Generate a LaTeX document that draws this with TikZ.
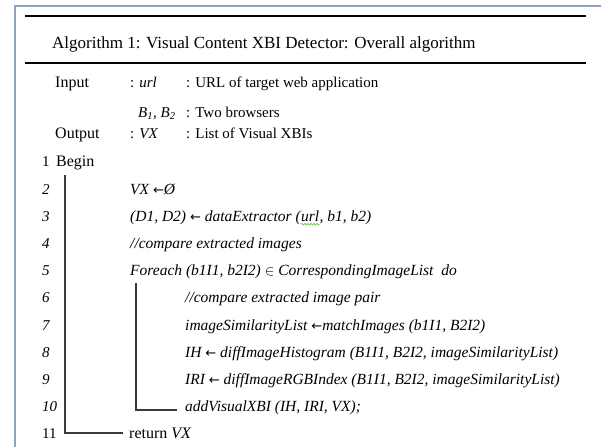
\documentclass[tikz,border=0pt]{standalone}
\usepackage{fontspec}
\setmainfont{Liberation Serif}
\newfontfamily\arrowfont{DejaVu Sans}
\newcommand{\larr}{{\arrowfont\upshape\fontsize{13}{16}\selectfont ←}}
\usetikzlibrary{calc,decorations.pathmorphing}
\definecolor{framecol}{HTML}{8FA3BF}
\definecolor{treecol}{HTML}{3A3A3A}
\definecolor{spellcol}{HTML}{6DBF4A}
\begin{document}
\begin{tikzpicture}[x=1pt,y=-1pt,
  txt/.style={inner sep=0pt, anchor=base west, font=\fontsize{16}{19}\selectfont},
  titletxt/.style={inner sep=0pt, anchor=base west, font=\fontsize{17}{20}\selectfont},
  small/.style={inner sep=0pt, anchor=base west, font=\fontsize{15}{18}\selectfont},
  code/.style={inner sep=0pt, anchor=base west, font=\fontsize{15.5}{18}\selectfont\itshape},
  lno/.style={inner sep=0pt, anchor=base west, font=\fontsize{15}{18}\selectfont\itshape},
  lnoup/.style={inner sep=0pt, anchor=base west, font=\fontsize{15}{18}\selectfont},
  frameline/.style={draw=framecol, line width=2pt},
  rule/.style={line width=1.4pt},
  tree/.style={draw=treecol, line width=1.2pt}]
\useasboundingbox (0,0) rectangle (601,447);
\fill[white] (0,0) rectangle (601,447);

% outer frame (top and left edges)
\draw[frameline] (15,447) -- (15,6) -- (601,6);

% caption rules and title
\coordinate (r1l) at (25,16);  \coordinate (r1r) at (586,16);
\coordinate (r2l) at (25,63);  \coordinate (r2r) at (586,63);
\draw[rule] (r1l) -- (r1r);
\draw[rule] (r2l) -- (r2r);
\node[titletxt] (title) at (52,48) {Algorithm 1: Visual Content XBI Detector: Overall algorithm};

% input / output declarations
\node[txt] (in) at (55,87) {Input};
\node[small] (inv) at (130,87) {: \textit{url}};
\node[small] (ind) at (186,87) {: URL of target web application};
\node[small] (inb) at (138,117) {\textit{B\textsubscript{1}, B\textsubscript{2}}};
\node[small] (inbd) at (186,117) {: Two browsers};
\node[txt] (out) at (55,138) {Output};
\node[small] (outv) at (130,138) {: \textit{VX}};
\node[small] (outd) at (186,138) {: List of Visual XBIs};

% line numbers
\node[lnoup] (n1) at (42,166.8) {1};
\node[lno] (n2) at (42,194) {2};
\node[lno] (n3) at (42,221.2) {3};
\node[lno] (n4) at (42,248.4) {4};
\node[lno] (n5) at (42,275.6) {5};
\node[lno] (n6) at (42,302.8) {6};
\node[lno] (n7) at (42,330) {7};
\node[lno] (n8) at (42,357.2) {8};
\node[lno] (n9) at (42,384.4) {9};
\node[lno] (n10) at (42,411.6) {10};
\node[lnoup] (n11) at (42,438.8) {11};

% body
\node[txt] (begin) at (56,166.8) {Begin};
\node[code] (l2) at (130,194) {VX \larr Ø};
\node[code] (l3a) at (130,221.2) {(D1, D2) \larr{} dataExtractor (};
\node[code] (url) at (l3a.base east) {url};
\node[code] (l3b) at (url.base east) {, b1, b2)};
\node[code] (l4) at (130,248.4) {//compare extracted images};
\node[code] (l5) at (130,275.6) {Foreach (b1I1, b2I2) $\in$ CorrespondingImageList~~do};
\node[code] (l6) at (185,302.8) {//compare extracted image pair};
\node[code] (l7) at (185,330) {imageSimilarityList \larr matchImages (b1I1, B2I2)};
\node[code] (l8) at (185,357.2) {IH \larr{} diffImageHistogram (B1I1, B2I2, imageSimilarityList)};
\node[code] (l9) at (185,384.4) {IRI \larr{} diffImageRGBIndex (B1I1, B2I2, imageSimilarityList)};
\node[code] (l10) at (185,411.6) {addVisualXBI (IH, IRI, VX);};
\node[txt] (ret) at (129,438.8) {return \textit{VX}};

% spell-check squiggle under the url argument
\draw[spellcol, line width=0.7pt, decorate,
  decoration={snake, amplitude=0.8pt, segment length=3pt}]
  ($(url.base west)+(0,3)$) -- ($(url.base east)+(0,3)$);

% block structure lines
\coordinate (bt) at (65,175);
\coordinate (be) at (123,433);
\draw[tree] (bt) |- (be);
\coordinate (ft) at (136,283);
\coordinate (fe) at (177,410);
\draw[tree] (ft) |- (fe);
\end{tikzpicture}
\end{document}
